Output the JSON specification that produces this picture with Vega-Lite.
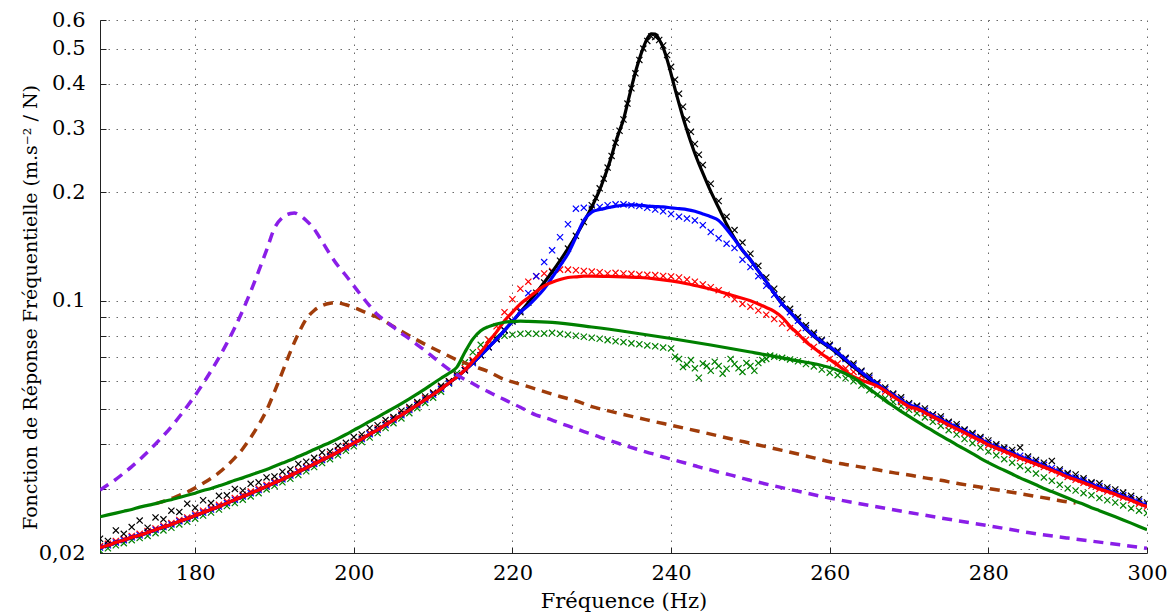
{
"$schema":"https://vega.github.io/schema/vega-lite/v6.json",
"width":1047,"height":533,
"autosize":{"type":"none"},
"padding":{"left":100,"top":20,"right":26,"bottom":62},
"background":"white",
"config":{"view":{"stroke":null},"font":"DejaVu Serif","axis":{"labelFont":"DejaVu Serif","titleFont":"DejaVu Serif","labelColor":"#000","titleColor":"#000","titleFontWeight":"normal","domainColor":"#222","tickColor":"#222","gridColor":"#444","gridOpacity":0.8,"gridDash":[1.5,6.5],"labelFlush":false,"labelOverlap":false}},
"data":{"values":[
{"f":168,"k":0.0219,"b":0.0207,"r":0.0209,"g":0.0203,"K":0.0207,"B":0.0207,"R":0.0207,"G":0.0252,"p":0.0299},
{"f":169,"k":0.0216,"b":0.0210,"r":0.0212,"g":0.0206,"K":0.0210,"B":0.0210,"R":0.0210,"G":0.0255,"p":0.0309},
{"f":170,"k":0.0231,"b":0.0214,"r":0.0216,"g":0.0210,"K":0.0214,"B":0.0214,"R":0.0214,"G":0.0258,"p":0.0320},
{"f":171,"k":0.0226,"b":0.0217,"r":0.0219,"g":0.0213,"K":0.0217,"B":0.0217,"R":0.0217,"G":0.0261,"p":0.0333},
{"f":172,"k":0.0236,"b":0.0221,"r":0.0223,"g":0.0217,"K":0.0221,"B":0.0221,"R":0.0221,"G":0.0264,"p":0.0347},
{"f":173,"k":0.0246,"b":0.0224,"r":0.0226,"g":0.0220,"K":0.0224,"B":0.0224,"R":0.0224,"G":0.0268,"p":0.0363},
{"f":174,"k":0.0235,"b":0.0228,"r":0.0230,"g":0.0223,"K":0.0228,"B":0.0228,"R":0.0228,"G":0.0271,"p":0.0381},
{"f":175,"k":0.0251,"b":0.0232,"r":0.0234,"g":0.0227,"K":0.0232,"B":0.0232,"R":0.0232,"G":0.0274,"p":0.0401,"o":0.0274},
{"f":176,"k":0.0248,"b":0.0236,"r":0.0238,"g":0.0231,"K":0.0236,"B":0.0236,"R":0.0236,"G":0.0278,"p":0.0423,"o":0.0278},
{"f":177,"k":0.0262,"b":0.0240,"r":0.0242,"g":0.0235,"K":0.0240,"B":0.0240,"R":0.0240,"G":0.0281,"p":0.0448,"o":0.0283},
{"f":178,"k":0.0260,"b":0.0245,"r":0.0247,"g":0.0240,"K":0.0245,"B":0.0245,"R":0.0245,"G":0.0285,"p":0.0477,"o":0.0289},
{"f":179,"k":0.0274,"b":0.0249,"r":0.0251,"g":0.0244,"K":0.0249,"B":0.0249,"R":0.0249,"G":0.0289,"p":0.0510,"o":0.0295},
{"f":180,"k":0.0267,"b":0.0254,"r":0.0257,"g":0.0249,"K":0.0254,"B":0.0254,"R":0.0254,"G":0.0293,"p":0.0547,"o":0.0303},
{"f":181,"k":0.0280,"b":0.0259,"r":0.0262,"g":0.0254,"K":0.0259,"B":0.0259,"R":0.0259,"G":0.0298,"p":0.0590,"o":0.0312},
{"f":182,"k":0.0275,"b":0.0264,"r":0.0267,"g":0.0259,"K":0.0264,"B":0.0264,"R":0.0264,"G":0.0302,"p":0.0639,"o":0.0322},
{"f":183,"k":0.0288,"b":0.0269,"r":0.0272,"g":0.0264,"K":0.0269,"B":0.0269,"R":0.0269,"G":0.0307,"p":0.0696,"o":0.0334},
{"f":184,"k":0.0289,"b":0.0275,"r":0.0278,"g":0.0270,"K":0.0275,"B":0.0275,"R":0.0275,"G":0.0312,"p":0.0763,"o":0.0349},
{"f":185,"k":0.0301,"b":0.0281,"r":0.0284,"g":0.0275,"K":0.0281,"B":0.0281,"R":0.0281,"G":0.0318,"p":0.0843,"o":0.0367},
{"f":186,"k":0.0298,"b":0.0287,"r":0.0290,"g":0.0281,"K":0.0287,"B":0.0287,"R":0.0287,"G":0.0323,"p":0.0941,"o":0.0389},
{"f":187,"k":0.0311,"b":0.0293,"r":0.0296,"g":0.0287,"K":0.0293,"B":0.0293,"R":0.0293,"G":0.0329,"p":0.1061,"o":0.0418},
{"f":188,"k":0.0314,"b":0.0299,"r":0.0302,"g":0.0293,"K":0.0299,"B":0.0299,"R":0.0299,"G":0.0335,"p":0.1208,"o":0.0453},
{"f":189,"k":0.0324,"b":0.0306,"r":0.0309,"g":0.0300,"K":0.0306,"B":0.0306,"R":0.0306,"G":0.0341,"p":0.1382,"o":0.0497},
{"f":190,"k":0.0326,"b":0.0313,"r":0.0316,"g":0.0307,"K":0.0313,"B":0.0313,"R":0.0313,"G":0.0348,"p":0.1590,"o":0.0560},
{"f":191,"k":0.0336,"b":0.0320,"r":0.0323,"g":0.0314,"K":0.0320,"B":0.0320,"R":0.0320,"G":0.0355,"p":0.1700,"o":0.0635},
{"f":192,"k":0.0341,"b":0.0328,"r":0.0331,"g":0.0321,"K":0.0328,"B":0.0328,"R":0.0328,"G":0.0362,"p":0.1745,"o":0.0722},
{"f":192.5,"p":0.1752},
{"f":193,"k":0.0353,"b":0.0336,"r":0.0339,"g":0.0329,"K":0.0336,"B":0.0336,"R":0.0336,"G":0.0370,"p":0.1735,"o":0.0810},
{"f":194,"k":0.0358,"b":0.0344,"r":0.0347,"g":0.0337,"K":0.0344,"B":0.0344,"R":0.0344,"G":0.0378,"p":0.1670,"o":0.0890},
{"f":195,"k":0.0367,"b":0.0353,"r":0.0357,"g":0.0346,"K":0.0353,"B":0.0353,"R":0.0353,"G":0.0387,"p":0.1580,"o":0.0940},
{"f":196,"k":0.0380,"b":0.0362,"r":0.0366,"g":0.0355,"K":0.0362,"B":0.0362,"R":0.0362,"G":0.0396,"p":0.1460,"o":0.0970},
{"f":197,"k":0.0382,"b":0.0371,"r":0.0375,"g":0.0364,"K":0.0371,"B":0.0371,"R":0.0371,"G":0.0405,"p":0.1345,"o":0.0985},
{"f":197.5,"o":0.0988},
{"f":198,"k":0.0396,"b":0.0381,"r":0.0385,"g":0.0373,"K":0.0381,"B":0.0381,"R":0.0381,"G":0.0415,"p":0.1250,"o":0.0987},
{"f":199,"k":0.0404,"b":0.0392,"r":0.0396,"g":0.0384,"K":0.0392,"B":0.0392,"R":0.0392,"G":0.0426,"p":0.1175,"o":0.0975},
{"f":200,"k":0.0419,"b":0.0403,"r":0.0407,"g":0.0395,"K":0.0403,"B":0.0403,"R":0.0403,"G":0.0438,"p":0.1100,"o":0.0958},
{"f":201,"k":0.0426,"b":0.0414,"r":0.0418,"g":0.0406,"K":0.0414,"B":0.0414,"R":0.0414,"G":0.0450,"p":0.1030,"o":0.0938},
{"f":202,"k":0.0444,"b":0.0427,"r":0.0431,"g":0.0418,"K":0.0427,"B":0.0427,"R":0.0427,"G":0.0463,"p":0.0968,"o":0.0918},
{"f":203,"k":0.0452,"b":0.0439,"r":0.0443,"g":0.0430,"K":0.0439,"B":0.0439,"R":0.0439,"G":0.0476,"p":0.0915,"o":0.0900},
{"f":204,"k":0.0467,"b":0.0453,"r":0.0458,"g":0.0444,"K":0.0453,"B":0.0453,"R":0.0453,"G":0.0490,"p":0.0878},
{"f":205,"k":0.0476,"b":0.0467,"r":0.0472,"g":0.0458,"K":0.0467,"B":0.0467,"R":0.0467,"G":0.0504,"p":0.0845,"o":0.0848},
{"f":206,"k":0.0496,"b":0.0482,"r":0.0487,"g":0.0472,"K":0.0482,"B":0.0482,"R":0.0482,"G":0.0519,"p":0.0812},
{"f":207,"k":0.0508,"b":0.0498,"r":0.0503,"g":0.0488,"K":0.0498,"B":0.0498,"R":0.0498,"G":0.0535,"p":0.0785,"o":0.0800},
{"f":208,"k":0.0524,"b":0.0514,"r":0.0519,"g":0.0504,"K":0.0514,"B":0.0514,"R":0.0514,"G":0.0552,"p":0.0755},
{"f":209,"k":0.0543,"b":0.0532,"r":0.0537,"g":0.0521,"K":0.0532,"B":0.0532,"R":0.0532,"G":0.0570,"p":0.0727,"o":0.0757},
{"f":210,"k":0.0556,"b":0.0550,"r":0.0556,"g":0.0539,"K":0.0550,"B":0.0550,"R":0.0550,"G":0.0590,"p":0.0698},
{"f":211,"k":0.0581,"b":0.0570,"r":0.0576,"g":0.0560,"K":0.0570,"B":0.0570,"R":0.0570,"G":0.0610,"p":0.0670,"o":0.0720},
{"f":212,"k":0.0598,"b":0.0592,"r":0.0598,"g":0.0590,"K":0.0592,"B":0.0592,"R":0.0592,"G":0.0630,"p":0.0645},
{"f":213,"k":0.0621,"b":0.0615,"r":0.0621,"g":0.0630,"K":0.0615,"B":0.0615,"R":0.0615,"G":0.0655,"p":0.0624,"o":0.0686},
{"f":214,"k":0.0642,"b":0.0642,"r":0.0650,"g":0.0675,"K":0.0642,"B":0.0642,"R":0.0642,"G":0.0720,"p":0.0605},
{"f":215,"k":0.0679,"b":0.0672,"r":0.0685,"g":0.0720,"K":0.0672,"B":0.0672,"R":0.0680,"G":0.0783,"p":0.0590,"o":0.0660},
{"f":216,"k":0.0706,"b":0.0706,"r":0.0725,"g":0.0755,"K":0.0706,"B":0.0706,"R":0.0720,"G":0.0826,"p":0.0573},
{"f":217,"k":0.0743,"b":0.0743,"r":0.0780,"g":0.0780,"K":0.0743,"B":0.0743,"R":0.0770,"G":0.0848,"p":0.0559,"o":0.0636},
{"f":218,"k":0.0783,"b":0.0783,"r":0.0850,"g":0.0795,"K":0.0783,"B":0.0783,"R":0.0820,"G":0.0862,"p":0.0545},
{"f":219,"k":0.0828,"b":0.0828,"r":0.0930,"g":0.0800,"K":0.0828,"B":0.0828,"R":0.0880,"G":0.0872,"p":0.0532,"o":0.0605},
{"f":220,"k":0.0877,"b":0.0877,"r":0.1010,"g":0.0805,"K":0.0877,"B":0.0877,"R":0.0930,"G":0.0876,"p":0.0519,"o":0.0596},
{"f":221,"k":0.0930,"b":0.0940,"r":0.1080,"g":0.0810,"K":0.0930,"B":0.0930,"R":0.0980,"G":0.0878,"p":0.0507},
{"f":222,"k":0.0989,"b":0.1050,"r":0.1130,"g":0.0812,"K":0.0989,"B":0.0970,"R":0.1020,"G":0.0877,"p":0.0494,"o":0.0578},
{"f":223,"k":0.1053,"b":0.1170,"r":0.1170,"g":0.0810,"K":0.1053,"B":0.1020,"R":0.1060,"p":0.0482},
{"f":224,"k":0.1124,"b":0.1280,"r":0.1190,"g":0.0812,"K":0.1124,"B":0.1080,"R":0.1100,"p":0.0475,"o":0.0560},
{"f":225,"k":0.1202,"b":0.1380,"r":0.1210,"g":0.0815,"K":0.1202,"B":0.1160,"R":0.1125,"G":0.0871,"p":0.0467},
{"f":226,"k":0.1292,"b":0.1500,"r":0.1220,"g":0.0810,"K":0.1292,"B":0.1250,"R":0.1145,"p":0.0458,"o":0.0543},
{"f":227,"k":0.1395,"b":0.1630,"r":0.1220,"g":0.0805,"K":0.1395,"B":0.1350,"R":0.1160,"p":0.0450},
{"f":228,"k":0.1514,"b":0.1800,"r":0.1215,"g":0.0800,"K":0.1514,"B":0.1500,"R":0.1165,"p":0.0442,"o":0.0528},
{"f":229,"k":0.1653,"b":0.1810,"r":0.1210,"g":0.0795,"K":0.1653,"B":0.1670,"R":0.1170,"p":0.0434},
{"f":230,"k":0.1840,"b":0.1800,"r":0.1205,"g":0.0790,"K":0.1820,"B":0.1760,"R":0.1170,"G":0.0846,"p":0.0427,"o":0.0509},
{"f":230.5,"k":0.193,"K":0.192},
{"f":231,"k":0.205,"b":0.182,"r":0.120,"g":0.0785,"K":0.203,"B":0.179,"p":0.0419},
{"f":231.5,"k":0.218,"K":0.217},
{"f":232,"k":0.234,"b":0.184,"r":0.119,"g":0.0778,"K":0.233,"B":0.181,"R":0.1168,"p":0.0412,"o":0.0496},
{"f":232.5,"k":0.252,"K":0.252},
{"f":233,"k":0.274,"b":0.185,"r":0.1195,"g":0.0772,"K":0.275,"B":0.183,"p":0.0405},
{"f":233.5,"k":0.296,"K":0.296},
{"f":234,"k":0.318,"b":0.185,"r":0.119,"g":0.0768,"K":0.318,"B":0.184,"R":0.1165,"p":0.0398,"o":0.0484},
{"f":234.5,"k":0.352,"K":0.352},
{"f":235,"k":0.388,"b":0.184,"r":0.1188,"g":0.0762,"K":0.390,"B":0.1845,"G":0.0817,"p":0.0392},
{"f":235.5,"k":0.427,"K":0.430},
{"f":236,"k":0.465,"b":0.183,"r":0.1182,"g":0.0758,"K":0.468,"B":0.184,"R":0.116,"p":0.0386,"o":0.0473},
{"f":236.5,"k":0.500,"K":0.503},
{"f":237,"k":0.525,"b":0.181,"r":0.118,"g":0.0752,"K":0.533,"B":0.183,"p":0.0380},
{"f":237.5,"k":0.540,"K":0.549},
{"f":238,"k":0.538,"b":0.179,"r":0.1178,"g":0.0748,"K":0.548,"B":0.1825,"R":0.115,"p":0.0375,"o":0.0462},
{"f":238.5,"k":0.528,"K":0.530},
{"f":239,"k":0.510,"b":0.177,"r":0.1172,"g":0.0742,"K":0.503,"B":0.182,"p":0.0369},
{"f":239.5,"k":0.480,"K":0.466},
{"f":240,"k":0.445,"b":0.174,"r":0.1168,"g":0.0738,"K":0.425,"B":0.181,"R":0.1135,"G":0.0786,"p":0.0364,"o":0.0452},
{"f":240.5,"k":0.410,"K":0.386,"g":0.0700},
{"f":241,"k":0.375,"b":0.171,"r":0.116,"g":0.0690,"K":0.352,"B":0.180,"p":0.0359},
{"f":241.5,"k":0.345,"K":0.322,"g":0.0655},
{"f":242,"k":0.318,"b":0.169,"r":0.1145,"g":0.0665,"K":0.297,"B":0.179,"R":0.1115,"p":0.0354,"o":0.0442},
{"f":242.5,"k":0.294,"K":0.275,"g":0.0685},
{"f":243,"k":0.272,"b":0.167,"r":0.113,"g":0.0650,"K":0.256,"B":0.177,"p":0.0349},
{"f":243.5,"k":0.254,"K":0.240,"g":0.0612},
{"f":244,"k":0.238,"b":0.162,"r":0.111,"g":0.0670,"K":0.226,"B":0.174,"R":0.109,"p":0.0344,"o":0.0432},
{"f":244.5,"g":0.0660},
{"f":245,"k":0.211,"b":0.155,"r":0.109,"g":0.0640,"K":0.201,"B":0.171,"G":0.0754,"p":0.0340},
{"f":245.5,"g":0.0678},
{"f":246,"k":0.189,"b":0.149,"r":0.107,"g":0.0660,"K":0.181,"B":0.167,"R":0.1063,"p":0.0335,"o":0.0422},
{"f":246.5,"g":0.0628},
{"f":247,"k":0.171,"b":0.144,"r":0.104,"g":0.0648,"K":0.163,"B":0.158,"p":0.0331},
{"f":247.5,"g":0.0690},
{"f":248,"k":0.157,"b":0.140,"r":0.101,"g":0.0668,"K":0.149,"B":0.148,"R":0.103,"p":0.0327,"o":0.0412},
{"f":248.5,"g":0.0650},
{"f":249,"k":0.145,"b":0.130,"r":0.098,"g":0.0635,"K":0.138,"B":0.138,"p":0.0322},
{"f":249.5,"g":0.0672},
{"f":250,"k":0.135,"b":0.124,"r":0.0963,"g":0.0660,"K":0.130,"B":0.130,"R":0.100,"G":0.0721,"p":0.0318,"o":0.0403},
{"f":250.5,"g":0.0640},
{"f":251,"k":0.125,"b":0.117,"r":0.094,"g":0.0672,"K":0.121,"B":0.121,"R":0.098},
{"f":251.5,"g":0.0685},
{"f":252,"k":0.116,"b":0.110,"r":0.0915,"g":0.0690,"K":0.113,"B":0.113,"R":0.0958,"o":0.0394},
{"f":252.5,"g":0.0705},
{"f":253,"k":0.108,"b":0.104,"r":0.089,"g":0.0700,"K":0.105,"B":0.105,"R":0.0935},
{"f":254,"k":0.101,"b":0.098,"r":0.0865,"g":0.0695,"K":0.098,"B":0.098,"R":0.090,"o":0.0385},
{"f":255,"k":0.095,"b":0.093,"r":0.084,"g":0.0688,"K":0.093,"B":0.093,"R":0.085,"G":0.0688,"p":0.0300},
{"f":256,"k":0.090,"b":0.088,"r":0.0815,"g":0.0680,"K":0.088,"B":0.088,"R":0.081,"o":0.0376},
{"f":257,"k":0.0855,"b":0.084,"r":0.078,"g":0.0668,"K":0.0835,"B":0.0838,"R":0.077},
{"f":258,"k":0.0815,"b":0.0805,"r":0.0745,"g":0.0658,"K":0.0797,"B":0.080,"R":0.074,"o":0.0367},
{"f":259,"k":0.078,"b":0.0775,"r":0.0715,"g":0.0645,"K":0.0766,"B":0.077,"R":0.0712},
{"f":260,"k":0.0755,"b":0.075,"r":0.069,"g":0.0632,"K":0.0742,"B":0.0745,"R":0.0688,"G":0.0653,"p":0.0284,"o":0.0358},
{"f":261,"k":0.0728,"b":0.072,"r":0.067,"g":0.0622,"K":0.0713,"B":0.0718,"R":0.0663,"G":0.0642},
{"f":262,"k":0.0695,"b":0.069,"r":0.065,"g":0.0610,"K":0.0683,"B":0.0688,"R":0.0638,"G":0.0628,"o":0.0352},
{"f":263,"k":0.0670,"b":0.0662,"r":0.0635,"g":0.0598,"K":0.0655,"B":0.0660,"R":0.0616,"G":0.0611},
{"f":264,"k":0.0640,"b":0.0636,"r":0.0620,"g":0.0582,"K":0.0630,"B":0.0634,"R":0.0602,"G":0.0591,"o":0.0346},
{"f":265,"k":0.0620,"b":0.0612,"r":0.0604,"g":0.0565,"K":0.0606,"B":0.0610,"R":0.0592,"G":0.0570,"p":0.0271},
{"f":266,"k":0.0594,"b":0.0590,"r":0.0584,"g":0.0550,"K":0.0584,"B":0.0588,"R":0.0580,"G":0.0549,"o":0.0340},
{"f":267,"k":0.0575,"b":0.0569,"r":0.0560,"g":0.0537,"K":0.0563,"B":0.0567,"R":0.0563,"G":0.0529},
{"f":268,"k":0.0553,"b":0.0550,"r":0.0542,"g":0.0524,"K":0.0545,"B":0.0548,"R":0.0543,"G":0.0511,"o":0.0334},
{"f":269,"k":0.0540,"b":0.0532,"r":0.0524,"g":0.0511,"K":0.0527,"B":0.0530,"R":0.0525,"G":0.0494},
{"f":270,"k":0.0520,"b":0.0516,"r":0.0508,"g":0.0499,"K":0.0511,"B":0.0514,"R":0.0509,"G":0.0478,"p":0.0259,"o":0.0329},
{"f":271,"k":0.0512,"b":0.0509,"r":0.0501,"g":0.0488,"K":0.0504,"B":0.0507,"R":0.0502,"G":0.0463},
{"f":272,"k":0.0503,"b":0.0496,"r":0.0489,"g":0.0475,"K":0.0491,"B":0.0494,"R":0.0490,"G":0.0449,"o":0.0323},
{"f":273,"k":0.0484,"b":0.0483,"r":0.0476,"g":0.0462,"K":0.0478,"B":0.0481,"R":0.0477,"G":0.0436},
{"f":274,"k":0.0478,"b":0.0471,"r":0.0464,"g":0.0450,"K":0.0466,"B":0.0469,"R":0.0465,"G":0.0423,"o":0.0318},
{"f":275,"k":0.0462,"b":0.0459,"r":0.0452,"g":0.0438,"K":0.0454,"B":0.0457,"R":0.0453,"G":0.0411,"p":0.0248},
{"f":276,"k":0.0455,"b":0.0448,"r":0.0441,"g":0.0426,"K":0.0444,"B":0.0446,"R":0.0442,"G":0.0399,"o":0.0312},
{"f":277,"k":0.0440,"b":0.0437,"r":0.0430,"g":0.0414,"K":0.0433,"B":0.0435,"R":0.0431,"G":0.0388},
{"f":278,"k":0.0430,"b":0.0426,"r":0.0420,"g":0.0403,"K":0.0422,"B":0.0424,"R":0.0420,"G":0.0377,"o":0.0307},
{"f":279,"k":0.0419,"b":0.0415,"r":0.0409,"g":0.0392,"K":0.0411,"B":0.0413,"R":0.0410,"G":0.0366},
{"f":280,"k":0.0410,"b":0.0404,"r":0.0398,"g":0.0382,"K":0.0400,"B":0.0402,"R":0.0399,"G":0.0356,"p":0.0238,"o":0.0302},
{"f":281,"k":0.0400,"b":0.0396,"r":0.0390,"g":0.0373,"K":0.0392,"B":0.0394,"R":0.0391,"G":0.0347},
{"f":282,"k":0.0392,"b":0.0388,"r":0.0382,"g":0.0364,"K":0.0384,"B":0.0386,"R":0.0383,"G":0.0339,"o":0.0297},
{"f":283,"k":0.0386,"b":0.0380,"r":0.0374,"g":0.0356,"K":0.0376,"B":0.0378,"R":0.0375,"G":0.0331},
{"f":284,"k":0.0392,"b":0.0372,"r":0.0366,"g":0.0348,"K":0.0368,"B":0.0370,"R":0.0367,"G":0.0323,"o":0.0292},
{"f":285,"k":0.0370,"b":0.0365,"r":0.0360,"g":0.0340,"K":0.0361,"B":0.0363,"R":0.0360,"G":0.0316,"p":0.0228},
{"f":286,"k":0.0362,"b":0.0358,"r":0.0353,"g":0.0332,"K":0.0354,"B":0.0356,"R":0.0353,"G":0.0309,"o":0.0287},
{"f":287,"k":0.0356,"b":0.0351,"r":0.0346,"g":0.0324,"K":0.0347,"B":0.0349,"R":0.0346,"G":0.0302},
{"f":288,"k":0.0360,"b":0.0344,"r":0.0339,"g":0.0317,"K":0.0341,"B":0.0342,"R":0.0339,"G":0.0296,"o":0.0282},
{"f":289,"k":0.0341,"b":0.0337,"r":0.0332,"g":0.0309,"K":0.0334,"B":0.0335,"R":0.0332,"G":0.0290},
{"f":290,"k":0.0333,"b":0.0330,"r":0.0325,"g":0.0302,"K":0.0327,"B":0.0328,"R":0.0325,"G":0.0284,"p":0.0220,"o":0.0277},
{"f":291,"k":0.0330,"b":0.0324,"r":0.0319,"g":0.0298,"K":0.0321,"B":0.0322,"R":0.0319,"G":0.0278,"o":0.0275},
{"f":292,"k":0.0322,"b":0.0318,"r":0.0313,"g":0.0293,"K":0.0315,"B":0.0316,"R":0.0313,"G":0.0273},
{"f":293,"k":0.0314,"b":0.0312,"r":0.0307,"g":0.0289,"K":0.0309,"B":0.0310,"R":0.0307,"G":0.0267},
{"f":294,"k":0.0312,"b":0.0306,"r":0.0301,"g":0.0284,"K":0.0303,"B":0.0304,"R":0.0301,"G":0.0262},
{"f":295,"k":0.0304,"b":0.0300,"r":0.0296,"g":0.0280,"K":0.0297,"B":0.0298,"R":0.0296,"G":0.0257,"p":0.0213},
{"f":296,"k":0.0300,"b":0.0295,"r":0.0291,"g":0.0276,"K":0.0292,"B":0.0293,"R":0.0291,"G":0.0252},
{"f":297,"k":0.0294,"b":0.0289,"r":0.0285,"g":0.0271,"K":0.0286,"B":0.0287,"R":0.0285,"G":0.0247},
{"f":298,"k":0.0288,"b":0.0284,"r":0.0280,"g":0.0266,"K":0.0281,"B":0.0282,"R":0.0280,"G":0.0242},
{"f":299,"k":0.0282,"b":0.0278,"r":0.0274,"g":0.0262,"K":0.0275,"B":0.0276,"R":0.0274,"G":0.0237},
{"f":300,"k":0.0276,"b":0.0273,"r":0.0269,"g":0.0258,"K":0.0270,"B":0.0271,"R":0.0269,"G":0.0232,"p":0.0206}
]},
"transform":[{"fold":["g","r","b","k","o","K","B","R","G","p"],"as":["s","v"]},{"filter":"isValid(datum.v)"}],
"encoding":{
"x":{"field":"f","type":"quantitative","scale":{"domain":[168,300],"nice":false,"zero":false},
"axis":{"values":[180,200,220,240,260,280,300],"format":"d","title":"Fréquence (Hz)","grid":true,"tickSize":-6,"labelPadding":15,"labelFontSize":21,"titleFontSize":21,"titleY":54,"titleBaseline":"alphabetic"}},
"y":{"field":"v","type":"quantitative","scale":{"type":"log","domain":[0.02,0.6],"nice":false},
"axis":{"values":[0.02,0.03,0.04,0.05,0.06,0.07,0.08,0.09,0.1,0.2,0.3,0.4,0.5,0.6],"labelExpr":"datum.value < 0.025 ? '0,02' : (datum.value > 0.099 ? format(datum.value, '.1f') : '')","title":"Fonction de Réponse Fréquentielle (m.s⁻² / N)","grid":true,"tickSize":-6,"labelPadding":21,"labelFontSize":21,"titleFontSize":19,"titleX":-64,"titleY":287,"titleBaseline":"alphabetic","titleAlign":"center"}}
},
"layer":[
{"transform":[{"filter":"datum.s=='g'"}],"mark":{"type":"point","shape":"M-1,-1L1,1M1,-1L-1,1","size":38,"strokeWidth":1.2,"filled":false,"opacity":1,"color":"#008000","clip":true}},
{"transform":[{"filter":"datum.s=='r'"}],"mark":{"type":"point","shape":"M-1,-1L1,1M1,-1L-1,1","size":38,"strokeWidth":1.2,"filled":false,"opacity":1,"color":"#ff0000","clip":true}},
{"transform":[{"filter":"datum.s=='b'"}],"mark":{"type":"point","shape":"M-1,-1L1,1M1,-1L-1,1","size":38,"strokeWidth":1.2,"filled":false,"opacity":1,"color":"#0000ff","clip":true}},
{"transform":[{"filter":"datum.s=='k'"}],"mark":{"type":"point","shape":"M-1,-1L1,1M1,-1L-1,1","size":38,"strokeWidth":1.2,"filled":false,"opacity":1,"color":"#000000","clip":true}},
{"transform":[{"filter":"datum.s=='o'"}],"mark":{"type":"line","color":"#a03c0a","strokeWidth":3.5,"strokeDash":[10,7],"interpolate":"monotone","clip":true}},
{"transform":[{"filter":"datum.s=='K'"}],"mark":{"type":"line","color":"#000000","strokeWidth":3.2,"interpolate":"monotone","clip":true}},
{"transform":[{"filter":"datum.s=='B'"}],"mark":{"type":"line","color":"#0000ff","strokeWidth":3.2,"interpolate":"monotone","clip":true}},
{"transform":[{"filter":"datum.s=='R'"}],"mark":{"type":"line","color":"#ff0000","strokeWidth":3.2,"interpolate":"monotone","clip":true}},
{"transform":[{"filter":"datum.s=='G'"}],"mark":{"type":"line","color":"#008000","strokeWidth":3.2,"interpolate":"monotone","clip":true}},
{"transform":[{"filter":"datum.s=='p'"}],"mark":{"type":"line","color":"#8a1ee8","strokeWidth":3.5,"strokeDash":[10,7],"interpolate":"monotone","clip":true}}
]
}
